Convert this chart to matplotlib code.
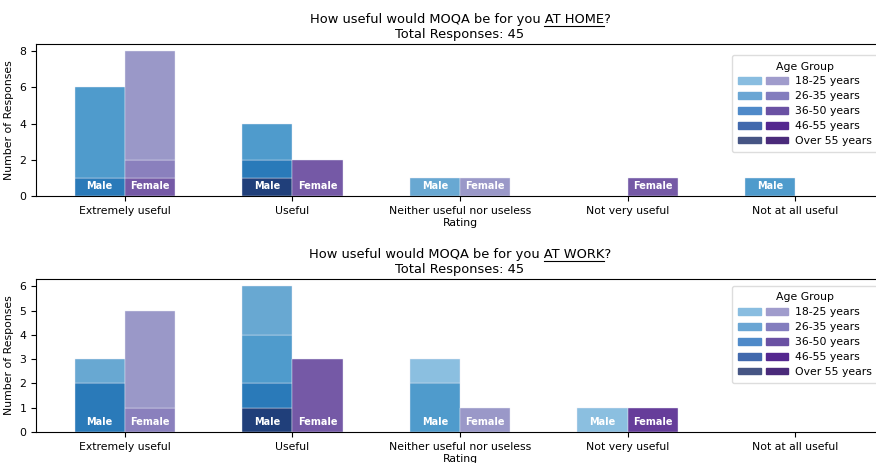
import numpy as np
import matplotlib
matplotlib.use("Agg")
import matplotlib.pyplot as plt
from matplotlib.patches import Patch
from matplotlib.legend_handler import HandlerTuple
from matplotlib.lines import Line2D

ratings = ["Extremely useful", "Useful", "Neither useful nor useless",
           "Not very useful", "Not at all useful"]
ages = ["18-25 years", "26-35 years", "36-50 years", "46-55 years", "Over 55 years"]

# counts per age group (rows follow `ages`), columns follow `ratings`
home_male = [
    [0, 0, 0, 0, 0],
    [0, 0, 1, 0, 0],
    [5, 2, 0, 0, 1],
    [1, 1, 0, 0, 0],
    [0, 1, 0, 0, 0],
]
home_female = [
    [6, 0, 1, 0, 0],
    [1, 0, 0, 0, 0],
    [1, 2, 0, 1, 0],
    [0, 0, 0, 0, 0],
    [0, 0, 0, 0, 0],
]
work_male = [
    [0, 0, 1, 1, 0],
    [1, 2, 0, 0, 0],
    [0, 2, 2, 0, 0],
    [2, 1, 0, 0, 0],
    [0, 1, 0, 0, 0],
]
work_female = [
    [4, 0, 1, 0, 0],
    [1, 0, 0, 0, 0],
    [0, 3, 0, 0, 0],
    [0, 0, 0, 1, 0],
    [0, 0, 0, 0, 0],
]
total_responses = 45

male_bar_colors = ["#8bbfe0", "#68a8d2", "#4f9bcc", "#2a7ab9", "#203f7a"]
female_bar_colors = ["#9a98c8", "#8a80bd", "#7559a6", "#663d9a", "#4a2a7a"]
male_leg_colors = ["#89bde0", "#6aa6d4", "#4f8ac9", "#4169ad", "#465584"]
female_leg_colors = ["#a09ccc", "#837dbe", "#6a51a3", "#54278f", "#4a2a7a"]

W, H = 876, 463
fig = plt.figure(figsize=(W / 100, H / 100), dpi=100)
ax_home = fig.add_axes([36 / W, (H - 196) / H, 848 / W, 152 / H])
ax_work = fig.add_axes([36 / W, (H - 432) / H, 848 / W, 153 / H])

FS = 7.8
x = np.arange(len(ratings))
width = 0.3


def draw_panel(ax, male, female, where, leg_y):
    male = np.array(male)
    female = np.array(female)
    for data, colors, offset, name in [(male, male_bar_colors, -width / 2, "Male"),
                                       (female, female_bar_colors, width / 2, "Female")]:
        bottom = np.zeros(len(ratings))
        # oldest group at the bottom of the stack
        for i in reversed(range(len(ages))):
            keep = data[i] > 0
            ax.bar(x[keep] + offset, data[i][keep], width, bottom=bottom[keep],
                   color=colors[i], edgecolor="#e8eaf4", linewidth=0.3)
            bottom += data[i]
        for xi, tot in zip(x, bottom):
            if tot > 0:
                ax.annotate(name, (xi + offset, 0), xytext=(0, 7.5),
                            textcoords="offset points", ha="center", va="center",
                            color="white", fontsize=7, fontweight="semibold")
    ax.set_xticks(x)
    ax.set_xticklabels(ratings, fontsize=FS)
    ax.tick_params(axis="y", labelsize=FS)
    ax.set_xlabel("Rating", fontsize=FS, labelpad=2)
    ax.set_ylabel("Number of Responses", fontsize=FS)
    ax.set_xlim(-0.53, 4.53)
    title = ax.set_title(f"How useful would MOQA be for you {where}?\n"
                         f"Total Responses: {total_responses}", fontsize=9.4, pad=4)

    handles = [(Patch(color=m), Patch(color=f))
               for m, f in zip(male_leg_colors, female_leg_colors)]
    ax.legend(handles, ages, title="Age Group", fontsize=FS, title_fontsize=FS,
              handler_map={tuple: HandlerTuple(ndivide=None, pad=0.45)},
              handlelength=4.6, handleheight=0.6, handletextpad=0.6,
              labelspacing=0.45, borderpad=0.6,
              loc="upper left", bbox_to_anchor=((732 - 36) / 848, leg_y),
              borderaxespad=0, framealpha=1, edgecolor="#dddddd")
    return title


t1 = draw_panel(ax_home, home_male, home_female, "AT HOME", (196 - 55) / 152)
t2 = draw_panel(ax_work, work_male, work_female, "AT WORK", (432 - 286) / 153)
ax_home.set_yticks([0, 2, 4, 6, 8])
ax_home.set_ylim(0, 8.4)
ax_work.set_yticks([0, 1, 2, 3, 4, 5, 6])
ax_work.set_ylim(0, 6.3)

# underline the location words in each title
fig.canvas.draw()
renderer = fig.canvas.get_renderer()


def text_width(s):
    t = fig.text(0, 0, s, fontsize=9.4)
    w = t.get_window_extent(renderer).width
    t.remove()
    return w


for t, where in [(t1, "AT HOME"), (t2, "AT WORK")]:
    bb = t.get_window_extent(renderer)
    line = f"How useful would MOQA be for you {where}?"
    w_line = text_width(line)
    cx = (bb.x0 + bb.x1) / 2
    left = cx - w_line / 2
    x0 = left + w_line - text_width(where + "?")
    x1 = left + w_line - text_width("?")
    y = bb.y1 - bb.height * 0.5 + 1
    fig.add_artist(Line2D([x0 / W, x1 / W], [y / H, y / H], color="black",
                          linewidth=0.8, transform=fig.transFigure))

plt.savefig("out.png", dpi=100)
